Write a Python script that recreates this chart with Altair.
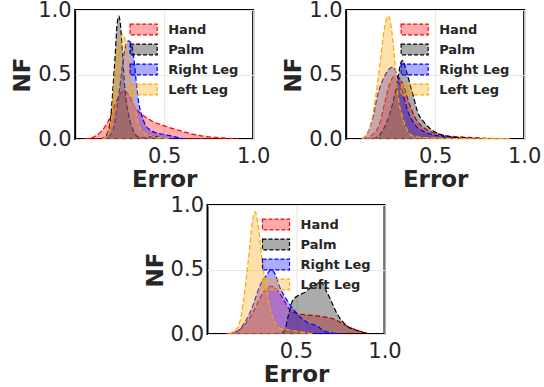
import altair as alt
import pandas as pd

SERIES = ["Hand", "Palm", "Right Leg", "Left Leg"]
LINE_COLORS = ["#ff0000", "#000000", "#0000ff", "#ffa500"]
FILL_COLORS = ["rgba(255,0,0,0.33)", "rgba(0,0,0,0.33)", "rgba(0,0,255,0.33)", "rgba(255,165,0,0.33)"]
X_TICKS = [0.5, 1.0]
Y_TICKS = [0.0, 0.5, 1.0]

# ---- panel 1 (top left) ----
P1_HAND_X = [0.05, 0.10, 0.14, 0.187, 0.225, 0.25, 0.27, 0.29, 0.31, 0.328, 0.35, 0.375, 0.43, 0.506, 0.60, 0.665, 0.73, 0.79, 0.86, 0.92]
P1_HAND_Y = [0, 0.013, 0.05, 0.14, 0.27, 0.34, 0.372, 0.36, 0.32, 0.27, 0.22, 0.19, 0.14, 0.10, 0.06, 0.036, 0.02, 0.012, 0.005, 0]
P1_PALM_X = [0.14, 0.17, 0.19, 0.205, 0.215, 0.225, 0.235, 0.245, 0.255, 0.265, 0.28, 0.30, 0.328, 0.356, 0.39, 0.44, 0.48, 0.52]
P1_PALM_Y = [0, 0.02, 0.08, 0.25, 0.45, 0.65, 0.88, 0.953, 0.88, 0.68, 0.38, 0.19, 0.062, 0.015, 0.008, 0.023, 0.01, 0]
P1_RIGHT_X = [0.15, 0.19, 0.215, 0.24, 0.26, 0.28, 0.30, 0.315, 0.33, 0.345, 0.356, 0.375, 0.393, 0.42, 0.449, 0.50, 0.543, 0.58, 0.62]
P1_RIGHT_Y = [0, 0.02, 0.08, 0.29, 0.5, 0.7, 0.76, 0.74, 0.62, 0.42, 0.29, 0.18, 0.113, 0.07, 0.05, 0.035, 0.023, 0.01, 0]
P1_LEFT_X = [0.15, 0.18, 0.20, 0.21, 0.219, 0.238, 0.255, 0.266, 0.28, 0.294, 0.313, 0.34, 0.356, 0.384, 0.43, 0.48, 0.53]
P1_LEFT_Y = [0, 0.03, 0.12, 0.22, 0.42, 0.68, 0.79, 0.81, 0.77, 0.68, 0.42, 0.22, 0.113, 0.05, 0.023, 0.01, 0]

# ---- panel 2 (top right) ----
P2_HAND_X = [0.10, 0.135, 0.187, 0.215, 0.243, 0.265, 0.284, 0.30, 0.318, 0.356, 0.393, 0.45, 0.524, 0.60, 0.695, 0.80, 0.90]
P2_HAND_Y = [0, 0.02, 0.113, 0.27, 0.42, 0.48, 0.487, 0.47, 0.43, 0.27, 0.153, 0.075, 0.036, 0.02, 0.012, 0.005, 0]
P2_PALM_X = [0.15, 0.187, 0.225, 0.262, 0.29, 0.305, 0.318, 0.337, 0.375, 0.40, 0.44, 0.477, 0.505, 0.56, 0.655, 0.75, 0.82]
P2_PALM_Y = [0, 0.03, 0.12, 0.28, 0.46, 0.58, 0.61, 0.53, 0.346, 0.217, 0.126, 0.075, 0.05, 0.023, 0.01, 0.004, 0]
P2_RIGHT_X = [0.09, 0.122, 0.15, 0.178, 0.21, 0.24, 0.262, 0.285, 0.31, 0.346, 0.393, 0.45, 0.524, 0.60, 0.70]
P2_RIGHT_Y = [0, 0.05, 0.165, 0.346, 0.47, 0.54, 0.557, 0.5, 0.4, 0.217, 0.1, 0.05, 0.023, 0.008, 0]
P2_LEFT_X = [0.09, 0.12, 0.145, 0.165, 0.19, 0.215, 0.237, 0.258, 0.277, 0.29, 0.318, 0.346, 0.375, 0.42, 0.50, 0.60, 0.75, 0.85, 0.92]
P2_LEFT_Y = [0, 0.05, 0.15, 0.32, 0.58, 0.86, 0.953, 0.82, 0.55, 0.35, 0.165, 0.062, 0.023, 0.012, 0.008, 0.004, 0.002, 0.005, 0]

# ---- panel 3 (bottom) ----
P3_HAND_X = [0.10, 0.137, 0.194, 0.25, 0.307, 0.34, 0.358, 0.38, 0.42, 0.47, 0.527, 0.62, 0.716, 0.79, 0.866, 0.92]
P3_HAND_Y = [0, 0.008, 0.047, 0.15, 0.305, 0.36, 0.372, 0.36, 0.29, 0.18, 0.153, 0.14, 0.114, 0.06, 0.02, 0]
P3_PALM_X = [0.38, 0.433, 0.458, 0.48, 0.515, 0.546, 0.584, 0.62, 0.64, 0.68, 0.735, 0.79, 0.866, 0.90, 0.93]
P3_PALM_Y = [0, 0.02, 0.15, 0.256, 0.30, 0.32, 0.36, 0.39, 0.40, 0.31, 0.15, 0.06, 0.02, 0.005, 0]
P3_RIGHT_X = [0.12, 0.156, 0.19, 0.245, 0.30, 0.335, 0.358, 0.38, 0.41, 0.452, 0.51, 0.565, 0.62, 0.66, 0.72, 0.78]
P3_RIGHT_Y = [0, 0.008, 0.05, 0.18, 0.385, 0.46, 0.50, 0.47, 0.357, 0.256, 0.15, 0.088, 0.062, 0.023, 0.005, 0]
P3_LEFT_X = [0.12, 0.147, 0.175, 0.203, 0.232, 0.255, 0.269, 0.285, 0.307, 0.335, 0.363, 0.39, 0.414, 0.45, 0.49, 0.533, 0.60]
P3_LEFT_Y = [0, 0.02, 0.06, 0.254, 0.59, 0.88, 0.948, 0.85, 0.59, 0.33, 0.15, 0.07, 0.04, 0.035, 0.025, 0.015, 0]


def make_df(curves):
    rows = []
    for name, (xs, ys) in zip(SERIES, curves):
        for a, b in zip(xs, ys):
            rows.append({"x": a, "y": b, "series": name})
    return pd.DataFrame(rows)


def legend():
    return alt.Legend(
        title=None,
        orient="none",
        legendX=62,
        legendY=13,
        symbolType="M-2.5,-1L2.5,-1L2.5,1L-2.5,1Z",
        symbolSize=117,
        symbolStrokeWidth=1.2,
        symbolDash=[4, 2],
        labelFont="DejaVu Sans",
        labelFontSize=13,
        labelFontWeight="bold",
        labelColor="#262626",
        labelOffset=18,
        rowPadding=3,
        padding=0,
    )


def panel(df, w):
    return (
        alt.Chart(df)
        .mark_area(
            interpolate="monotone",
            strokeWidth=1.2,
            strokeDash=[5, 2.5],
            clip=True,
        )
        .encode(
            x=alt.X(
                "x:Q",
                scale=alt.Scale(domain=[0, 1], nice=False),
                axis=alt.Axis(values=X_TICKS, format=".1f", title="Error",
                              labelPadding=6, titlePadding=2, labelFlush=False),
            ),
            y=alt.Y(
                "y:Q",
                stack=None,
                scale=alt.Scale(domain=[0, 1], nice=False),
                axis=alt.Axis(values=Y_TICKS, format=".1f", title="NF",
                              labelPadding=4, titlePadding=3, labelFlush=False),
            ),
            fill=alt.Fill("series:N", scale=alt.Scale(domain=SERIES, range=FILL_COLORS),
                          legend=legend(), sort=SERIES),
            stroke=alt.Stroke("series:N", scale=alt.Scale(domain=SERIES, range=LINE_COLORS),
                              legend=legend(), sort=SERIES),
        )
        .properties(width=w, height=129)
    )


p1 = panel(make_df([(P1_HAND_X, P1_HAND_Y), (P1_PALM_X, P1_PALM_Y),
                    (P1_RIGHT_X, P1_RIGHT_Y), (P1_LEFT_X, P1_LEFT_Y)]), 178)
p2 = panel(make_df([(P2_HAND_X, P2_HAND_Y), (P2_PALM_X, P2_PALM_Y),
                    (P2_RIGHT_X, P2_RIGHT_Y), (P2_LEFT_X, P2_LEFT_Y)]), 178)
p3 = panel(make_df([(P3_HAND_X, P3_HAND_Y), (P3_PALM_X, P3_PALM_Y),
                    (P3_RIGHT_X, P3_RIGHT_Y), (P3_LEFT_X, P3_LEFT_Y)]), 177)

# small invisible spacer that nudges the centred bottom panel to the left
spacer = (
    alt.Chart(pd.DataFrame({"v": [0]}))
    .mark_point(opacity=0)
    .encode(x=alt.X("v:Q", axis=None), y=alt.Y("v:Q", axis=None))
    .properties(width=7, height=1, view=alt.ViewBackground(strokeOpacity=0))
)

top = alt.hconcat(p1, p2, spacing=10).resolve_scale(
    fill="independent", stroke="independent").resolve_legend(
    fill="independent", stroke="independent")
bottom = alt.hconcat(p3, spacer, spacing=0).resolve_scale(
    fill="independent", stroke="independent").resolve_legend(
    fill="independent", stroke="independent")
chart = (
    alt.vconcat(top, bottom, spacing=1, center=True)
    .resolve_scale(fill="independent", stroke="independent")
    .resolve_legend(fill="independent", stroke="independent")
    .properties(padding={"left": 10, "top": -2, "right": 0, "bottom": 0}, background="white")
    .configure_view(stroke="#000000", strokeWidth=2)
    .configure_axis(
        labelFont="DejaVu Sans",
        labelFontSize=21,
        labelColor="#262626",
        titleFont="DejaVu Sans",
        titleFontSize=23,
        titleFontWeight="bold",
        titleColor="#262626",
        ticks=False,
        domain=False,
        grid=True,
        gridColor="#e6e6e6",
        gridWidth=1,
    )
)

chart.save("out.html", embed_options={"renderer": "svg", "actions": False})
